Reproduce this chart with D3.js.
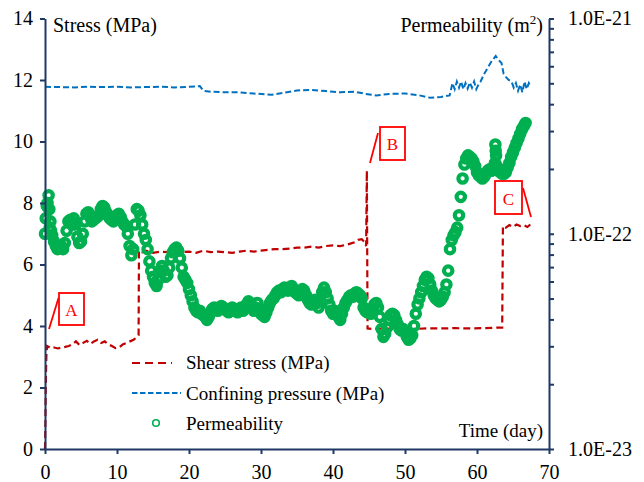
<!DOCTYPE html>
<html>
<head>
<meta charset="utf-8">
<script src="https://cdn.jsdelivr.net/npm/d3@7"></script>
<style>
  body { margin: 0; background: #fff; }
  svg { display: block; }
  text { font-family: "Liberation Serif", "Times New Roman", serif; }
</style>
</head>
<body>
<svg id="chart" width="644" height="482"></svg>
<script>
// ---- data -------------------------------------------------------------
// Shear stress (MPa) against time (day)
const shearDays = [0,0.05,0.1,0.15,0.2,0.3,0.8,1.3,1.8,2.3,2.8,3.3,3.8,4.3,4.8,5.3,5.8,6.3,6.8,7.3,
  7.8,8.3,8.8,9.3,9.8,10.3,10.8,11.3,11.8,12.3,12.8,13.0,13.05,13.5,14,15,16,17,18,19,
  20,21,22,23,24,25,26,27,28,29,30,31,32,33,34,35,36,37,38,39,
  40,41,42,43,43.5,44,44.3,44.6,44.7,44.8,45.5,47,49,51,53,55,57,59,61,63,
  63.5,63.6,64,64.5,65,65.5,66,66.5,67,67.4];
const shearMPa = [0,0.8,1.8,2.6,3.1,3.35,3.28,3.3,3.27,3.3,3.32,3.35,3.4,3.5,3.38,3.45,3.52,3.42,3.5,3.55,
  3.45,3.5,3.4,3.35,3.28,3.3,3.4,3.45,3.5,3.55,3.65,3.7,6.45,6.4,6.45,6.38,6.42,6.4,6.45,6.4,
  6.42,6.38,6.45,6.4,6.42,6.4,6.38,6.42,6.45,6.42,6.45,6.48,6.5,6.5,6.52,6.55,6.55,6.58,6.55,6.6,
  6.62,6.6,6.65,6.72,6.8,6.82,6.75,6.6,9.05,3.92,3.9,3.92,3.9,3.9,3.92,3.92,3.93,3.92,3.93,3.95,
  3.95,7.25,7.2,7.28,7.22,7.3,7.25,7.28,7.22,7.3];

// Confining pressure (MPa) against time (day)
const confDays = [0,2,4,6,8,10,12,14,16,18,20,21.5,22,23,25,27,29,31.5,33,35,
  37,39,41,43,44.5,46,48,50,52,53.5,55,56.2,56.6,56.9,57.2,57.5,57.8,58.1,58.4,58.7,
  59,59.3,59.6,59.9,60.2,60.5,61,61.5,62,62.6,63,63.4,63.7,64,64.4,64.8,65.1,65.4,65.7,66,
  66.3,66.6,66.9,67.2,67.4];
const confMPa = [11.78,11.77,11.76,11.78,11.77,11.78,11.76,11.77,11.78,11.76,11.78,11.8,11.65,11.62,11.6,11.6,11.56,11.52,11.58,11.66,
  11.68,11.64,11.6,11.62,11.55,11.5,11.55,11.56,11.5,11.42,11.45,11.5,11.9,11.7,11.95,11.75,11.95,11.7,11.9,11.72,
  11.92,11.75,11.95,11.7,11.85,11.95,12.2,12.4,12.6,12.78,12.65,12.55,12.2,12.1,12.0,11.95,11.75,11.9,11.65,11.85,
  11.6,11.95,11.7,11.9,11.8];

// Permeability, sampled every quarter day from day 0, in units of 1e-22 m²
const permFirstDay = 0;
const permStepDay = 0.25;
const permUnit = 1e-22;
const permValues = [
  1.000,1.345,1.51,1.141,0.984,0.921,0.877,0.848,0.862,0.877,0.848,0.906,1.033,1.141,1.160,1.104,
  1.179,1.104,0.968,0.906,0.921,1.000,1.141,1.238,1.259,1.198,1.141,1.160,1.179,1.198,1.218,1.301,
  1.345,1.323,1.259,1.218,1.179,1.160,1.141,1.179,1.218,1.238,1.198,1.141,1.104,1.086,1.000,0.877,
  0.794,0.848,1.104,1.301,1.280,1.218,1.104,1.000,0.936,0.848,0.744,0.674,0.631,0.591,0.572,0.611,
  0.674,0.708,0.674,0.631,0.641,0.696,0.769,0.821,0.848,0.862,0.834,0.769,0.696,0.631,0.611,0.591,
  0.553,0.518,0.485,0.454,0.439,0.432,0.439,0.425,0.418,0.411,0.398,0.411,0.432,0.447,0.454,0.447,
  0.439,0.454,0.462,0.454,0.447,0.439,0.432,0.439,0.454,0.447,0.439,0.432,0.447,0.454,0.439,0.447,
  0.469,0.485,0.477,0.454,0.439,0.454,0.477,0.447,0.425,0.418,0.411,0.432,0.454,0.477,0.493,0.501,
  0.518,0.535,0.544,0.535,0.553,0.562,0.553,0.544,0.562,0.572,0.553,0.535,0.527,0.518,0.535,0.553,
  0.544,0.518,0.493,0.477,0.469,0.485,0.493,0.477,0.454,0.485,0.535,0.562,0.535,0.501,0.469,0.439,
  0.425,0.439,0.432,0.411,0.398,0.425,0.454,0.477,0.493,0.510,0.518,0.510,0.527,0.535,0.527,0.518,
  0.501,0.454,0.439,0.432,0.439,0.425,0.447,0.469,0.477,0.454,0.411,0.361,0.332,0.343,0.367,0.398,
  0.418,0.425,0.418,0.398,0.379,0.361,0.355,0.361,0.349,0.332,0.322,0.327,0.338,0.373,0.425,0.469,
  0.501,0.535,0.572,0.611,0.631,0.621,0.581,0.544,0.518,0.501,0.493,0.485,0.493,0.510,0.535,0.581,
  0.674,0.848,0.936,0.984,1.017,1.068,1.218,1.484,1.807,2.096,2.238,2.312,2.275,2.238,2.166,2.062,
  1.931,1.868,1.837,1.807,1.837,1.899,1.963,1.995,1.963,2.028,2.131,2.062,1.963,1.931,1.899,1.899,
  1.931,2.028,2.131,2.275,2.390,2.512,2.639,2.772,2.912,3.059,3.162,3.268];
// Additional permeability readings (fast swings at the start, scatter near day 62.6)
const permExtraDays = [0.1, 0.35, 0.6, 0.65, 0.85, 62.55, 62.6, 62.65];
const permExtraValues = [1.179, 1.389, 1.301, 1.068, 1.033, 2.596, 2.430, 2.312];

const stressTicks = [0, 2, 4, 6, 8, 10, 12, 14];
const dayTicks = [0, 10, 20, 30, 40, 50, 60, 70];
const permDecades = [1e-23, 1e-22, 1e-21];
const permDecadeLabels = ["1.0E-23", "1.0E-22", "1.0E-21"];

const legendNames = ["Shear stress (MPa)", "Confining pressure (MPa)", "Permeability"];
const markNames = ["A", "B", "C"];

// ---- layout -----------------------------------------------------------
const svg = d3.select("#chart");
const axisColor = "#1f3864";
const shearColor = "#c00000";
const confColor = "#0070c0";
const permColor = "#00b050";
const markColor = "#ff0000";

const x = d3.scaleLinear().domain([0, 70]).range([45, 549]);
const yL = d3.scaleLinear().domain([0, 14]).range([449, 18.5]);
const yR = d3.scaleLog().domain([1e-23, 1e-21]).range([449, 18.5]);

function styleAxis(g, fontSize) {
  g.attr("font-family", null);
  g.select(".domain").attr("stroke", axisColor).attr("stroke-width", 2);
  g.selectAll(".tick line").attr("stroke", axisColor).attr("stroke-width", 2);
  g.selectAll(".tick text").attr("fill", "#000").attr("font-size", fontSize);
}

// ---- series ------------------------------------------------------------
const shearPts = shearDays.map((d, i) => [d, shearMPa[i]]);
const confPts = confDays.map((d, i) => [d, confMPa[i]]);
const permPts = permValues.map((v, i) => [permFirstDay + i * permStepDay, v * permUnit])
  .concat(permExtraDays.map((d, i) => [d, permExtraValues[i] * permUnit]));

const stressLine = d3.line().x(d => x(d[0])).y(d => yL(d[1]));

svg.append("path").datum(shearPts)
  .attr("d", stressLine).attr("fill", "none")
  .attr("stroke", shearColor).attr("stroke-width", 2.2)
  .attr("stroke-dasharray", "7,4");

svg.append("path").datum(confPts)
  .attr("d", stressLine).attr("fill", "none")
  .attr("stroke", confColor).attr("stroke-width", 2)
  .attr("stroke-dasharray", "6,3");

// open markers, drawn heavy so that close readings merge into a band
svg.append("g").selectAll("circle").data(permPts).join("circle")
  .attr("cx", d => x(d[0])).attr("cy", d => yR(d[1]))
  .attr("r", 4.2).attr("fill", "none")
  .attr("stroke", permColor).attr("stroke-width", 4.2);

// ---- axes --------------------------------------------------------------
const gLeft = svg.append("g").attr("transform", "translate(45,0)")
  .call(d3.axisLeft(yL).tickValues(stressTicks).tickSize(5).tickSizeOuter(0).tickPadding(7));
styleAxis(gLeft, 20);

const gBottom = svg.append("g").attr("transform", "translate(0,449)")
  .call(d3.axisBottom(x).tickValues(dayTicks).tickSize(5).tickSizeOuter(0).tickPadding(11));
styleAxis(gBottom, 20);

const permTickValues = [];
permDecades.forEach((p, i) => {
  if (i < permDecades.length - 1) {
    for (let m = 1; m < 10; m++) permTickValues.push(p * m);
  } else permTickValues.push(p);
});
const gRight = svg.append("g").attr("transform", "translate(549,0)")
  .call(d3.axisRight(yR).tickValues(permTickValues).tickSize(5).tickSizeOuter(0).tickPadding(14)
    .tickFormat(v => {
      const k = permDecades.findIndex(p => Math.abs(v / p - 1) < 1e-6);
      return k >= 0 ? permDecadeLabels[k] : "";
    }));
styleAxis(gRight, 20);

// ---- axis titles -------------------------------------------------------
svg.append("text").attr("x", 53).attr("y", 32).attr("font-size", 20).text("Stress (MPa)");

const permTitle = svg.append("text").attr("x", 543).attr("y", 32)
  .attr("font-size", 20).attr("text-anchor", "end");
permTitle.append("tspan").text("Permeability (m");
permTitle.append("tspan").attr("font-size", 13).attr("dy", -8).text("2");
permTitle.append("tspan").attr("dy", 8).text(")");

svg.append("text").attr("x", 543).attr("y", 437).attr("font-size", 19)
  .attr("text-anchor", "end").text("Time (day)");

// ---- legend ------------------------------------------------------------
const legend = svg.append("g");
legend.append("line").attr("x1", 132).attr("x2", 172).attr("y1", 363).attr("y2", 363)
  .attr("stroke", shearColor).attr("stroke-width", 2.2).attr("stroke-dasharray", "8,5");
legend.append("line").attr("x1", 132).attr("x2", 181).attr("y1", 393).attr("y2", 393)
  .attr("stroke", confColor).attr("stroke-width", 2).attr("stroke-dasharray", "5.5,2.5");
legend.append("circle").attr("cx", 156).attr("cy", 423).attr("r", 3.3)
  .attr("fill", "none").attr("stroke", permColor).attr("stroke-width", 1.6);
[369, 400, 430].forEach((yy, i) => {
  legend.append("text").attr("x", 186).attr("y", yy).attr("font-size", 19).text(legendNames[i]);
});

// ---- stage marks -------------------------------------------------------
const markBoxes = [
  { x: 59, y: 293, w: 25, h: 32, base: 316, lead: [58.5, 298, 49, 329] },
  { x: 380, y: 127, w: 25, h: 33, base: 150, lead: [378, 133, 370, 163] },
  { x: 495, y: 181, w: 27, h: 33, base: 205, lead: [523, 188, 531, 217] }
];
const marks = svg.append("g");
markBoxes.forEach((b, i) => {
  marks.append("rect").attr("x", b.x).attr("y", b.y).attr("width", b.w).attr("height", b.h)
    .attr("fill", "none").attr("stroke", markColor).attr("stroke-width", 1.8);
  marks.append("line").attr("x1", b.lead[0]).attr("y1", b.lead[1])
    .attr("x2", b.lead[2]).attr("y2", b.lead[3])
    .attr("stroke", markColor).attr("stroke-width", 1.8);
  marks.append("text").attr("x", b.x + b.w / 2).attr("y", b.base)
    .attr("text-anchor", "middle").attr("font-size", 17).attr("fill", markColor)
    .text(markNames[i]);
});
</script>
</body>
</html>
